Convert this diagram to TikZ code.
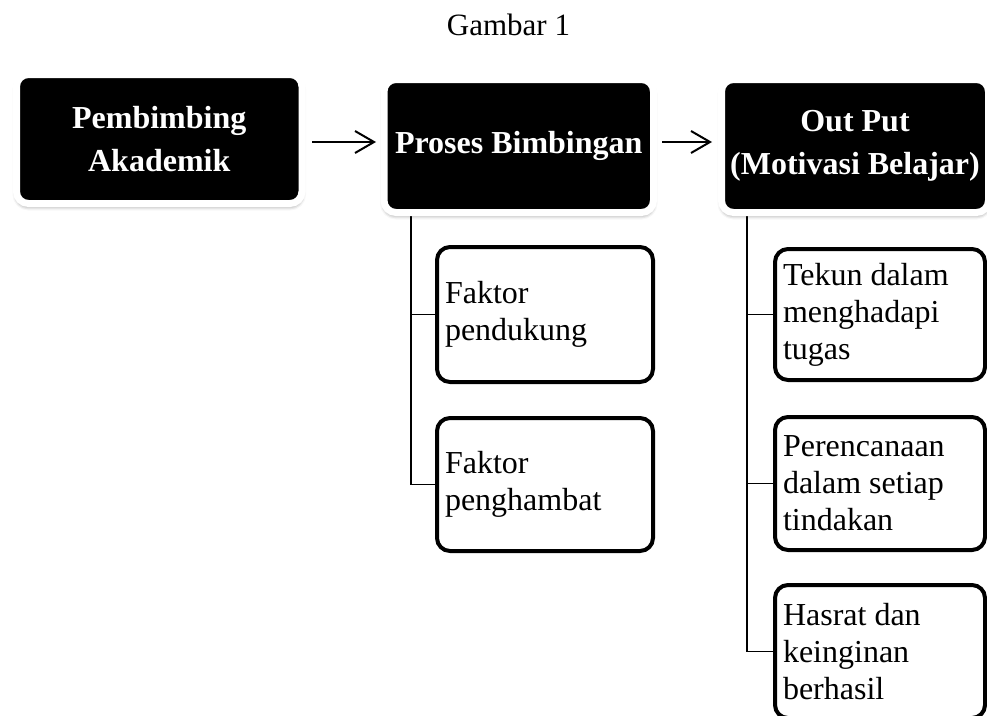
\documentclass[tikz,border=0pt]{standalone}
\usepackage{fontspec}
\setmainfont{Liberation Serif}
\usetikzlibrary{arrows.meta,shadows.blur,backgrounds}
\begin{document}
\begin{tikzpicture}[x=1pt,y=-1pt,
  head/.style={draw=white, line width=7pt, fill=black, rounded corners=12pt, text=white,
    font=\fontsize{32}{43}\selectfont\bfseries, align=center, outer sep=0pt, inner sep=0pt,
    blur shadow={shadow xshift=0pt, shadow yshift=-3pt, shadow blur radius=4pt, shadow opacity=50}},
  item/.style={draw=black, line width=4pt, fill=white, rounded corners=13pt,
    font=\fontsize{32}{37}\selectfont, align=flush left, outer sep=0pt, inner xsep=8pt, inner ysep=0pt},
  conn/.style={line width=1.5pt},
  flow/.style={line width=2pt, -{Straight Barb[length=19pt,width=22pt,line width=2pt]}}
]
\useasboundingbox (0,0) rectangle (987,715);
\clip (0,0) rectangle (987,715);

\node[font=\fontsize{31}{36}\selectfont, anchor=base, inner sep=0pt] (title) at (508.5,35) {Gambar 1};

\node[head, minimum width=285.5pt, minimum height=129pt] (pa) at (159.25,139) {Pembimbing\\Akademik};
\node[head, minimum width=269.5pt, minimum height=133pt] (pb) at (518.75,146) {Proses Bimbingan};
\node[head, minimum width=267pt, minimum height=133pt] (op) at (855,146) {Out Put\\(Motivasi Belajar)};

\node[item, text width=200pt, minimum height=135pt] (fp) at (545,314.5) {Faktor\\pendukung};
\node[item, text width=200pt, minimum height=133pt] (fh) at (545,484.5) {Faktor\\penghambat};

\node[item, text width=194pt, minimum height=131pt] (tk) at (880,314.5) {Tekun dalam\\menghadapi\\tugas};
\node[item, text width=194pt, minimum height=133pt] (pr) at (880,483.5) {Perencanaan\\dalam setiap\\tindakan};
\node[item, text width=194pt, minimum height=133pt] (hs) at (880,651.5) {Hasrat dan\\keinginan\\berhasil};

\draw[flow, shorten <=10pt, shorten >=8pt] ([yshift=-3pt]pa.east) -- ([yshift=4pt]pb.west);
\draw[flow, shorten <=8.5pt, shorten >=9.5pt] ([yshift=4pt]pb.east) -- ([yshift=4pt]op.west);

\begin{scope}[on background layer]
\draw[conn] ([xshift=27pt]pb.south west) |- (fp.west);
\draw[conn] ([xshift=27pt]pb.south west) |- (fh.west);
\draw[conn] ([xshift=25.5pt]op.south west) |- (tk.west);
\draw[conn] ([xshift=25.5pt]op.south west) |- (pr.west);
\draw[conn] ([xshift=25.5pt]op.south west) |- (hs.west);
\end{scope}
\end{tikzpicture}
\end{document}
